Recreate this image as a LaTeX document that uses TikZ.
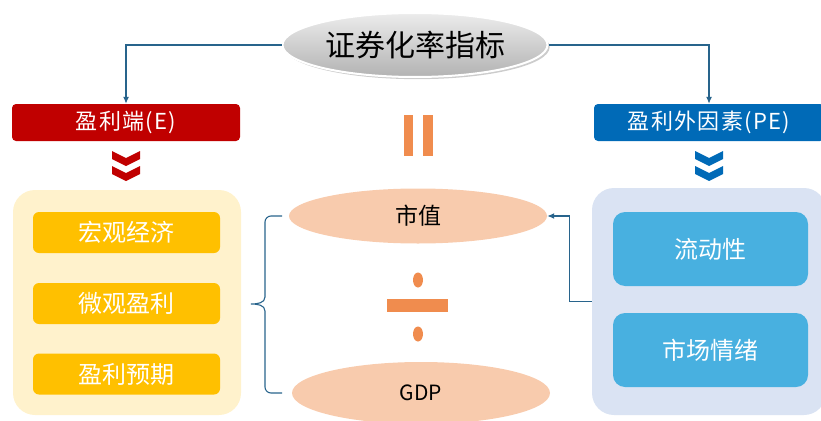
\documentclass[tikz,border=0pt]{standalone}
\usepackage{fontspec}
\newfontfamily\cjk{Noto Sans CJK SC}
\newfontfamily\cjkwide[LetterSpace=6]{Noto Sans CJK SC}
\usetikzlibrary{shapes.geometric,arrows.meta,shadows}
\definecolor{redhead}{RGB}{192,0,0}
\definecolor{bluehead}{RGB}{0,106,183}
\definecolor{lightyellow}{RGB}{255,242,204}
\definecolor{itemyellow}{RGB}{255,192,0}
\definecolor{lightblue}{RGB}{218,227,243}
\definecolor{itemblue}{RGB}{72,176,224}
\definecolor{orangec}{RGB}{240,140,78}
\definecolor{peach}{RGB}{248,203,173}
\definecolor{connc}{RGB}{40,100,140}
\begin{document}
\begin{tikzpicture}[x=1pt,y=-1pt,
  conn/.style={draw=connc, line width=1.2pt},
  tip/.style={-{Latex[length=7pt,width=6pt]}},
  head/.style={rectangle, rounded corners=4pt, text=white, inner sep=0pt,
    font=\cjkwide\fontsize{22}{26}\selectfont},
  panel/.style={rectangle, rounded corners=22pt, inner sep=0pt},
  item/.style={rectangle, rounded corners=6pt, text=white, inner sep=0pt,
    font=\cjk\fontsize{24}{28}\selectfont},
  peachell/.style={ellipse, fill=peach, inner sep=0pt,
    font=\cjk\fontsize{23}{27}\selectfont}]
\useasboundingbox (0,0) rectangle (821,420);
\clip (0,0) rectangle (821,420);
% title
\node[ellipse, minimum width=265pt, minimum height=64pt, draw=white, line width=2pt,
  top color=gray!15, bottom color=gray!60, drop shadow={opacity=0.4},
  font=\cjk\fontsize{30}{34}\selectfont] (title) at (415,45) {证券化率指标};
% headers
\node[head, fill=redhead, minimum width=228pt, minimum height=37pt] (E) at (126,122.5) {盈利端(E)};
\node[head, fill=bluehead, minimum width=230pt, minimum height=37pt] (PE) at (709,122.5) {盈利外因素(PE)};
\draw[conn,tip] (title.west) -| (E.north);
\draw[conn,tip] (title.east) -| (PE.north);
% chevrons
\foreach \cx/\cc in {126/redhead,709/bluehead}{
  \foreach \cy in {151,166}{
    \fill[\cc] (\cx-14,\cy) -- (\cx,\cy+7) -- (\cx+14,\cy) -- (\cx+14,\cy+8)
      -- (\cx,\cy+15) -- (\cx-14,\cy+8) -- cycle;
  }
}
% left panel
\node[panel, fill=lightyellow, minimum width=228pt, minimum height=225pt] (lp) at (127,302.5) {};
\node[item, fill=itemyellow, minimum width=187pt, minimum height=41pt] (y1) at (126.5,232.5) {宏观经济};
\node[item, fill=itemyellow, minimum width=187pt, minimum height=41pt] (y2) at (126.5,303.5) {微观盈利};
\node[item, fill=itemyellow, minimum width=187pt, minimum height=41pt] (y3) at (126.5,374) {盈利预期};
% right panel
\node[panel, fill=lightblue, minimum width=234pt, minimum height=227pt] (rp) at (709,301.5) {};
\node[item, fill=itemblue, rounded corners=12pt, minimum width=195pt, minimum height=74pt] (b1) at (710.5,249) {流动性};
\node[item, fill=itemblue, rounded corners=12pt, minimum width=195pt, minimum height=74pt] (b2) at (710.5,350) {市场情绪};
% center
\fill[orangec] (404,115) rectangle (413,156);
\fill[orangec] (423,115) rectangle (433,156);
\node[peachell, minimum width=258pt, minimum height=55pt] (mv) at (418,216) {市值};
\node[peachell, minimum width=258pt, minimum height=62pt, font=\cjk\fontsize{21}{25}\selectfont] (gdp) at (421,393) {GDP};
\fill[orangec] (418,280) ellipse [x radius=5pt, y radius=7.5pt];
\fill[orangec] (387,299) rectangle (448,312);
\fill[orangec] (418,334) ellipse [x radius=5pt, y radius=7.5pt];
% connector from right panel
\draw[conn,tip] (rp.west) -- ++(-22,0) |- (mv.east);
% bracket
\draw[conn, line width=1.1pt] (282,216) -- (271,216) to[out=180,in=90] (265,222)
  -- (265,297) to[out=-90,in=0] (251,304) to[out=0,in=90] (265,311)
  -- (265,387) to[out=-90,in=180] (271,393) -- (282,393);
\end{tikzpicture}
\end{document}
